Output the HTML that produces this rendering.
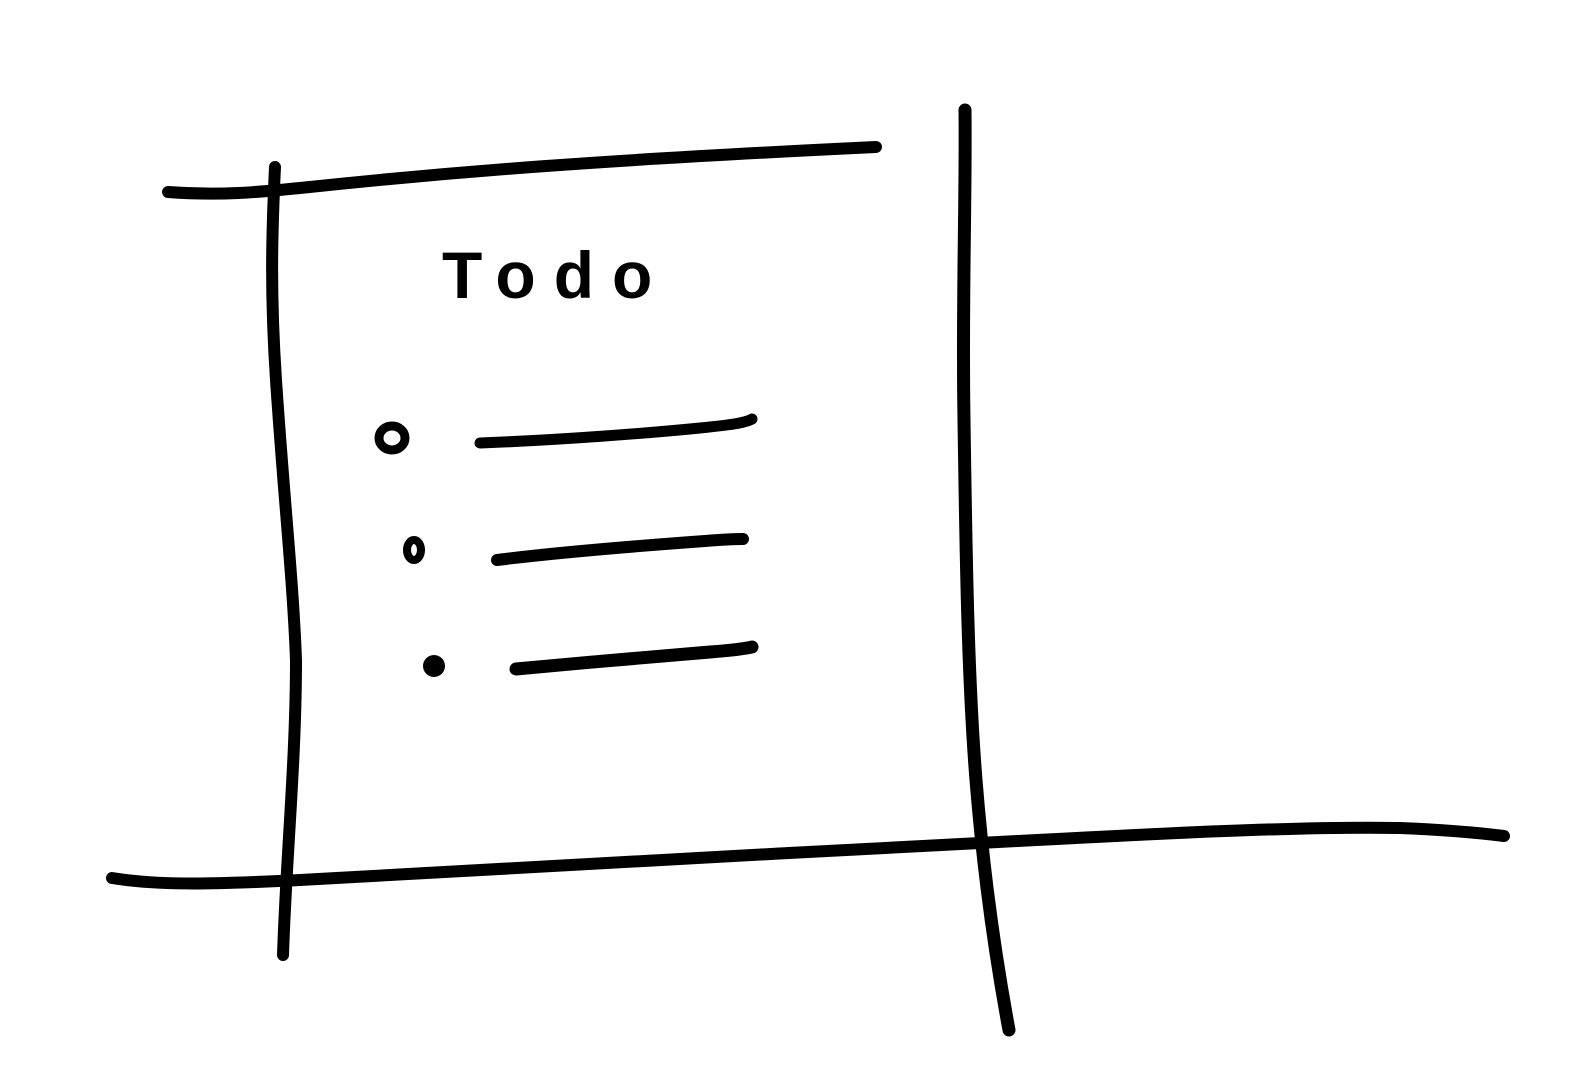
<!DOCTYPE html>
<html><head><meta charset="utf-8"><style>html,body{margin:0;padding:0;background:#fff;}svg{display:block;}</style></head>
<body>
<svg width="1590" height="1091" viewBox="0 0 1590 1091" xmlns="http://www.w3.org/2000/svg">
<rect width="1590" height="1091" fill="#fff"/>
<g fill="none" stroke="#000" stroke-linecap="round" stroke-linejoin="round">
<path d="M168,192 C220,196 260,192 300,188 C450,172 600,160 876,147" stroke-width="12"/>
<path d="M275,167 C272,230 270,290 276,380 C284,500 293,580 296,660 C296,760 286,860 283,955" stroke-width="12"/>
<path d="M965,110 C966,200 962,300 964,420 C966,560 968,680 976,780 C984,880 996,960 1009,1030" stroke-width="13"/>
<path d="M112,878 C160,886 220,884 300,880 C500,868 750,855 980,843 C1150,834 1300,826 1400,828 C1450,830 1480,833 1504,836" stroke-width="12"/>
<path d="M480,443 C560,440 650,433 700,428 C730,425 745,423 752,419" stroke-width="11"/>
<path d="M497,560 C560,552 650,545 705,541 C730,539 740,539 743,539" stroke-width="12"/>
<path d="M516,669 C580,663 660,656 710,652 C735,650 748,648 752,647" stroke-width="13"/>
<ellipse cx="392" cy="438" rx="13" ry="12" stroke-width="9"/>
<ellipse cx="414" cy="550" rx="7" ry="10" stroke-width="8"/>
</g>
<circle cx="434" cy="666" r="11" fill="#000"/>
<text x="442" y="298" font-family="Liberation Sans, sans-serif" font-weight="bold" font-size="66" letter-spacing="18" fill="#000">Todo</text>
</svg>
</body></html>
